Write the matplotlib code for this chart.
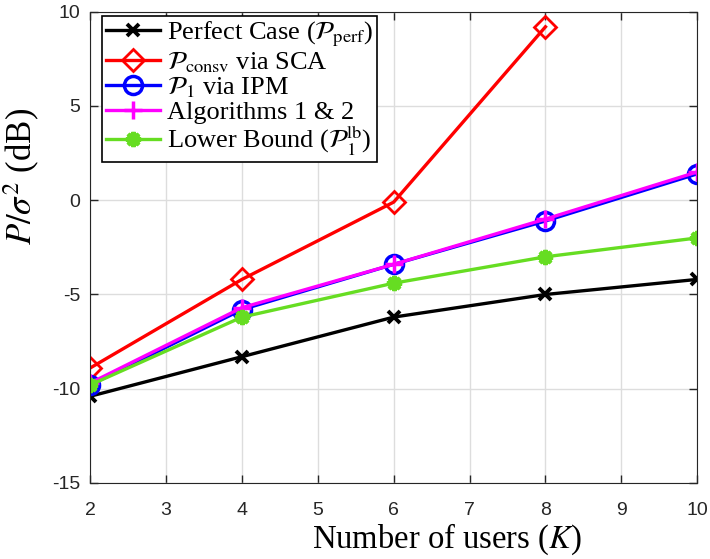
import matplotlib.pyplot as plt

plt.rcParams["mathtext.fontset"] = "stix"

users = [2, 4, 6, 8, 10]
perfect = [-10.4, -8.3, -6.2, -5.0, -4.2]
consv = [-8.9, -4.2, -0.1, 9.2]
ipm = [-9.8, -5.8, -3.4, -1.1, 1.4]
algos = [-9.7, -5.7, -3.4, -1.0, 1.5]
lower = [-9.8, -6.2, -4.4, -3.0, -2.0]

xticks = [2, 3, 4, 5, 6, 7, 8, 9, 10]
yticks = [-15, -10, -5, 0, 5, 10]
ytick_labels = ["-15", "-10", "-5", "0", "5", "10"]

serif = "Liberation Serif"
sans = "Liberation Sans"

fig = plt.figure(figsize=(7.1, 5.59), dpi=100)
ax = fig.add_axes([0.127, 0.136, 0.855, 0.843])

lw = 2.4
ax.plot(users, perfect, color="black", lw=lw, marker="x", ms=9, mew=2.8,
        label=r"Perfect Case ($\mathcal{P}_{\rm perf}$)")
ax.plot(users[:4], consv, color="red", lw=lw, marker="D", ms=11, mew=2,
        mfc="none", label=r"$\mathcal{P}_{\rm consv}$ via SCA")
ax.plot(users, ipm, color="blue", lw=lw, marker="o", ms=13, mew=2.5,
        mfc="none", label=r"$\mathcal{P}_1$ via IPM")
ax.plot(users, algos, color="magenta", lw=lw, marker="+", ms=13, mew=2.5,
        label="Algorithms 1 & 2")
ax.plot(users, lower, color="#66dd22", lw=lw, marker=(8, 2, 0), ms=11, mew=3,
        label=r"Lower Bound ($\mathcal{P}_1^{\rm lb}$)")

ax.set_xlim(2, 10)
ax.set_ylim(-15, 10)
ax.set_xticks(xticks)
ax.set_xticklabels([str(k) for k in xticks], fontfamily=sans, fontsize=14)
ax.set_yticks(yticks)
ax.set_yticklabels(ytick_labels, fontfamily=sans, fontsize=14)
ax.tick_params(direction="in", length=6, width=1, top=True, right=True,
               color="#262626", labelcolor="#262626")
ax.tick_params(axis="x", pad=14)
ax.tick_params(axis="y", pad=7)
ax.grid(True, color="#dddddd", lw=1)
ax.set_axisbelow(True)
for s in ax.spines.values():
    s.set_color("#262626")

ax.set_xlabel(r"Number of users ($K$)", fontfamily=serif, fontsize=23.5)
ax.xaxis.set_label_coords(0.588, -0.082)
ax.set_ylabel(r"$P/\sigma^2$ (dB)", fontfamily=serif, fontsize=25)
ax.yaxis.set_label_coords(-0.08, 0.65)

leg = ax.legend(loc="upper left", bbox_to_anchor=(0.0198, 0.9915),
                borderaxespad=0, prop={"family": serif, "size": 19},
                handlelength=2.05, handletextpad=0.25, labelspacing=0.0,
                borderpad=0.15, fancybox=False, edgecolor="black", framealpha=1)
leg.get_frame().set_linewidth(1.2)

fig.savefig("out.png", dpi=100)
